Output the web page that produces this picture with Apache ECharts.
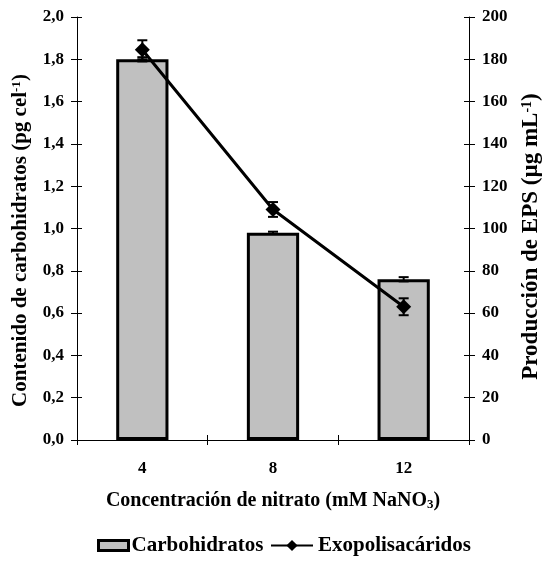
<!DOCTYPE html>
<html><head><meta charset="utf-8">
<script src="https://cdn.jsdelivr.net/npm/echarts@6/dist/echarts.min.js"></script>
<style>html,body{margin:0;padding:0;background:#fff}#c{width:543px;height:561px}</style>
</head><body><div id="c"></div>
<script>
const categories = ['4', '8', '12'];
const carbohidratos = [1.80, 0.98, 0.76];
const carbohidratosErr = [0.01, 0.005, 0.01];
const exopolisacaridos = [184.5, 109, 63];
const exopolisacaridosErr = [4.5, 3.5, 4];
const leftTicks = [0, 2, 0.2];
const rightTicks = [0, 200, 20];

const FONT = '"Liberation Serif", "Times New Roman", serif';
const chart = echarts.init(document.getElementById('c'));

function errSeries(name, yIdx, vals, errs, cap) {
  return {
    type: 'custom', name: name, yAxisIndex: yIdx, z: 10, silent: true,
    data: vals.map((v, i) => [i, v - errs[i], v + errs[i]]),
    renderItem: function (params, api) {
      const lo = api.coord([api.value(0), api.value(1)]);
      const hi = api.coord([api.value(0), api.value(2)]);
      const st = { stroke: '#000', lineWidth: 2 };
      return { type: 'group', children: [
        { type: 'line', shape: { x1: lo[0], y1: lo[1], x2: hi[0], y2: hi[1] }, style: st },
        { type: 'line', shape: { x1: lo[0] - cap, y1: lo[1], x2: lo[0] + cap, y2: lo[1] }, style: st },
        { type: 'line', shape: { x1: hi[0] - cap, y1: hi[1], x2: hi[0] + cap, y2: hi[1] }, style: st }
      ]};
    }
  };
}

const labelStyle = { color: '#000', fontFamily: FONT, fontWeight: 'bold', fontSize: 17 };
function rich(size) {
  return {
    b: { fontFamily: FONT, fontWeight: 'bold', fontSize: size, color: '#000' },
    sup: { fontFamily: FONT, fontWeight: 'bold', fontSize: Math.round(size * 0.6), color: '#000', verticalAlign: 'top', padding: [0, 0, 9, 0] },
    sub: { fontFamily: FONT, fontWeight: 'bold', fontSize: Math.round(size * 0.65), color: '#000', verticalAlign: 'bottom', padding: [7, 0, 0, 0] }
  };
}
const legendText = { fontFamily: FONT, fontWeight: 'bold', fontSize: 21, color: '#000' };

chart.setOption({
  animation: false,
  backgroundColor: '#fff',
  grid: { left: 77, right: 74, top: 17, bottom: 121, containLabel: false, outerBoundsMode: 'none' },
  legend: [{
    top: 535, left: 97, itemWidth: 30, itemHeight: 10, padding: 0,
    textStyle: Object.assign({ padding: [0, 0, 0, -2] }, legendText),
    data: [{ name: 'Carbohidratos', icon: 'rect', itemStyle: { color: '#c0c0c0', borderColor: '#000', borderWidth: 3 } }]
  }, {
    top: 535, left: 270, itemWidth: 42, itemHeight: 14, padding: 0,
    textStyle: legendText,
    data: [{ name: 'Exopolisacáridos' }]
  }],
  xAxis: [{
    type: 'category', data: categories, boundaryGap: true,
    axisLine: { lineStyle: { color: '#000', width: 1 } },
    axisTick: { show: true, length: 5, lineStyle: { color: '#000' } },
    axisLabel: Object.assign({ margin: 20 }, labelStyle),
    name: '{b|Concentración de nitrato (mM NaNO}{sub|3}{b|)}',
    nameLocation: 'middle', nameGap: 51,
    nameTextStyle: { rich: rich(20) }
  }, {
    type: 'category', data: categories, boundaryGap: true, position: 'bottom',
    axisLine: { show: false }, axisLabel: { show: false },
    axisTick: { show: true, inside: true, length: 5, lineStyle: { color: '#000' } }
  }],
  yAxis: [{
    type: 'value', min: leftTicks[0], max: leftTicks[1], interval: leftTicks[2], position: 'left',
    axisLine: { show: true, lineStyle: { color: '#000' } },
    axisTick: { show: true, length: 6, lineStyle: { color: '#000' } },
    splitLine: { show: false },
    axisLabel: Object.assign({ margin: 13, formatter: v => v.toFixed(1).replace('.', ',') }, labelStyle),
    name: '{b|Contenido de carbohidratos (pg cel}{sup|-1}{b|)}',
    nameLocation: 'middle', nameGap: 45, nameRotate: 90,
    nameTextStyle: { rich: rich(21), padding: [0, 24, 0, 0] }
  }, {
    type: 'value', min: rightTicks[0], max: rightTicks[1], interval: rightTicks[2], position: 'right',
    axisLine: { show: true, lineStyle: { color: '#000' } },
    axisTick: { show: true, length: 6, lineStyle: { color: '#000' } },
    splitLine: { show: false },
    axisLabel: Object.assign({ margin: 13 }, labelStyle),
    name: '{b|Producción de EPS (µg mL}{sup|-1}{b|)}',
    nameLocation: 'middle', nameGap: 51, nameRotate: 90,
    nameTextStyle: { rich: rich(23), padding: [0, 16, 0, 0] }
  }, {
    type: 'value', min: leftTicks[0], max: leftTicks[1], interval: leftTicks[2], position: 'left',
    axisLine: { show: false }, axisLabel: { show: false }, splitLine: { show: false },
    axisTick: { show: true, inside: true, length: 5, lineStyle: { color: '#000' } }
  }, {
    type: 'value', min: rightTicks[0], max: rightTicks[1], interval: rightTicks[2], position: 'right',
    axisLine: { show: false }, axisLabel: { show: false }, splitLine: { show: false },
    axisTick: { show: true, inside: true, length: 5, lineStyle: { color: '#000' } }
  }],
  series: [
    {
      name: 'Carbohidratos', type: 'bar', yAxisIndex: 0, data: carbohidratos, barWidth: '40%',
      itemStyle: { color: '#c0c0c0', borderColor: '#000', borderWidth: 3 }
    },
    errSeries('errC', 0, carbohidratos, carbohidratosErr, 5),
    {
      name: 'Exopolisacáridos', type: 'line', yAxisIndex: 1, data: exopolisacaridos, z: 5,
      symbol: 'diamond', symbolSize: 15,
      lineStyle: { color: '#000', width: 3 }, itemStyle: { color: '#000' }
    },
    errSeries('errE', 1, exopolisacaridos, exopolisacaridosErr, 5)
  ]
});
</script></body></html>
